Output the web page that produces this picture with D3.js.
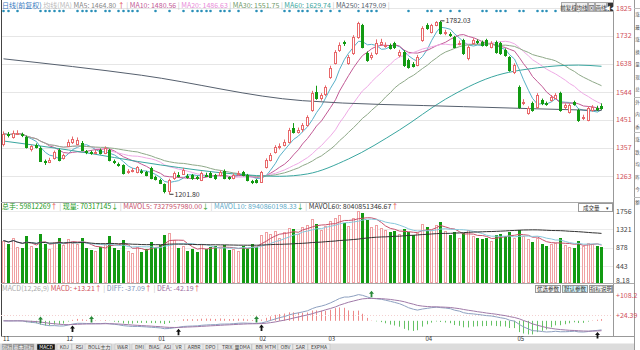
<!DOCTYPE html>
<html><head><meta charset="utf-8">
<script src="https://cdn.jsdelivr.net/npm/d3@7"></script>
<style>
body{margin:0;background:#fff}
svg{display:block;font-family:"Noto Sans CJK SC","DejaVu Sans",sans-serif}
</style>
</head><body><div id="chart"></div>
<script>
// daily candles, Nov .. May
const opens  = [1370,1402,1392,1405,1402,1395,1352,1368,1358,1312,1312,1322,1350,1322,
  1365,1376,1370,1375,1345,1342,1340,1350,1340,1350,1314,1304,1300,1276,1280,1276,1280,1276,1290,1260,
  1250,1235,1212,1256,1268,1272,1264,1266,1258,1249,1268,1273,1266,1266,1280,1258,1256,1272,1276,1266,1245,1249,
  1243,1293,1316,1343,1358,1367,1377,1423,1412,1417,1434,1484,1544,1524,1537,
  1594,1641,1684,1710,1641,1674,1728,1768,1674,1660,1674,1705,1700,1701,1708,1668,1678,1651,1638,1634,1718,
  1768,1745,1768,1778,1740,1738,1728,1706,1718,1658,1708,1714,1711,1718,1694,1711,1708,1684,1661,1610,
  1560,1508,1474,1507,1494,1517,1506,1517,1524,1540,1494,1477,1510,1484,1458,1450,1484,1492,1498];
const closes = [1405,1398,1407,1408,1398,1362,1362,1360,1316,1308,1318,1343,1316,1333,
  1378,1386,1382,1350,1342,1340,1344,1340,1356,1316,1310,1300,1273,1280,1283,1292,1276,1266,1256,1252,
  1240,1210,1249,1273,1265,1284,1260,1256,1256,1273,1266,1260,1256,1276,1256,1256,1266,1274,1266,1249,1243,1243,
  1276,1316,1333,1360,1362,1377,1417,1410,1418,1432,1460,1540,1524,1534,1560,
  1624,1678,1700,1705,1660,1728,1775,1695,1651,1668,1708,1712,1702,1691,1695,1678,1634,1628,1632,1661,1758,
  1758,1768,1778,1742,1745,1735,1694,1708,1674,1695,1718,1710,1701,1701,1708,1678,1674,1668,1617,1634,
  1494,1512,1490,1484,1534,1507,1504,1527,1534,1484,1500,1500,1504,1450,1462,1490,1494,1488,1490];
const highs  = [1412,1410,1415,1416,1408,1398,1366,1372,1362,1318,1324,1348,1355,1338,
  1385,1395,1392,1380,1350,1348,1350,1355,1362,1354,1318,1308,1302,1286,1290,1296,1286,1280,1294,1264,
  1254,1238,1254,1278,1276,1290,1270,1270,1264,1278,1274,1278,1270,1282,1285,1262,1272,1280,1280,1270,1250,1253,
  1280,1322,1340,1366,1372,1385,1424,1440,1425,1440,1466,1548,1565,1540,1566,
  1632,1684,1710,1716,1668,1734,1779,1772,1680,1676,1720,1722,1710,1706,1712,1685,1684,1656,1644,1668,1764,
  1774,1772,1781,1782.03,1752,1744,1732,1716,1722,1700,1724,1720,1716,1722,1714,1716,1712,1690,1664,1640,
  1566,1520,1496,1512,1540,1522,1512,1534,1540,1545,1506,1506,1515,1488,1468,1496,1500,1498,1506];
const lows   = [1362,1392,1388,1400,1393,1355,1345,1355,1310,1300,1306,1318,1312,1318,
  1360,1370,1366,1346,1336,1334,1336,1335,1336,1312,1303,1294,1268,1270,1275,1272,1270,1262,1252,1248,
  1236,1205,1201.8,1250,1258,1268,1254,1250,1250,1246,1260,1256,1250,1262,1252,1250,1252,1266,1262,1245,1236,1238,
  1240,1288,1312,1338,1352,1362,1372,1405,1405,1410,1428,1478,1518,1515,1530,
  1588,1636,1678,1698,1635,1668,1722,1690,1645,1652,1668,1698,1692,1686,1688,1660,1628,1622,1626,1630,1712,
  1752,1740,1764,1736,1734,1728,1690,1700,1668,1650,1702,1704,1696,1696,1690,1672,1668,1662,1612,1604,
  1488,1500,1468,1478,1488,1500,1498,1512,1520,1478,1486,1472,1498,1444,1450,1446,1478,1480,1484];
const volumes = [1050,980,1120,900,870,1150,920,880,1200,960,850,1010,1100,940,
  1080,1000,960,1120,870,820,790,900,980,1150,880,830,1060,800,760,900,780,860,1010,880,
  940,1180,1240,1060,880,920,800,850,780,960,840,890,910,870,950,820,860,800,930,880,980,900,
  1180,1250,1200,1280,1100,1260,1350,1320,1210,1380,1420,1560,1450,1300,1400,
  1520,1600,1650,1480,1400,1580,1750,1700,1550,1380,1420,1350,1300,1250,1280,1200,1320,1260,1180,1240,1450,
  1380,1300,1420,1500,1280,1180,1250,1100,1220,1300,1150,1100,1080,1120,1050,1180,1200,1150,1250,1100,
  1300,1150,1080,1020,1120,980,920,960,1000,1100,940,900,870,1050,920,1000,960,930,900];

const monthLabels = ["11","12","01","02","03","04","05"];
const monthStarts = [0,14,34,56,71,92,112];
const priceTicks = [1825,1732,1638,1544,1451,1357,1263];
const volTicks = [1756,1321,878,443];
const macdTicks = [108.2,24.39];

// long averages (history before Nov is not on screen)
const ma60At  = [0,14,34,50,60,66,75,86,96,106,116,125,130];
const ma60Val = [1380,1350,1300,1270,1262,1270,1320,1417,1520,1594,1625,1634,1630];
const ma250At  = [0,30,65,100,130];
const ma250Val = [1655,1600,1515,1495,1482];

// signal dots along the top and cross arrows in MACD
const dotAt = [0,1,3,8,9,10,11,12,13,16,17,18,19,20,22,23,25,26,27,28,29,33,36,39,41,42,43,44,45,47,48,49,51,55,56,
  61,62,64,65,66,68,69,71,73,77,79,80,81,88,92,93,95,97,99,104,105,107,108,109,112,113,116,117,118,120,125];
const buyAt = [15,38,56,129];
const sellAt = [8,19,55,80];

const W = 640, H = 350, N = closes.length;
const svg = d3.select("#chart").append("svg").attr("width", W).attr("height", H)
  .style("font-size", "7px");
svg.append("rect").attr("width", W).attr("height", H).attr("fill", "#fff");

const x = d3.scaleBand().domain(d3.range(N)).range([1, 605]).padding(0.3);
const cx = i => Math.round(x(i)) + 1.5;
const y = d3.scaleLinear().domain([1263, 1825]).range([176, 8]);
const yv = d3.scaleLinear().domain([443, 1756]).range([266, 211]);
const ym = d3.scaleLinear().domain([24.39, 108.2]).range([315, 295]);

const mean = (arr, i, n) => d3.mean(arr.slice(Math.max(0, i - n + 1), i + 1));
const ma = n => closes.map((c, i) => mean(closes, i, n));

// frames
const line = (x1, y1, x2, y2, c) => svg.append("line").attr("x1", x1).attr("y1", y1)
  .attr("x2", x2).attr("y2", y2).attr("stroke", c).attr("stroke-width", 1);
priceTicks.forEach(t => line(1, Math.round(y(t)) + .5, 613, Math.round(y(t)) + .5, "#e6e6e6"));
volTicks.forEach(t => line(1, Math.round(yv(t)) + .5, 613, Math.round(yv(t)) + .5, "#ececec"));
line(1.5, 0, 1.5, 337, "#444");
line(613.5, 0, 613.5, 337, "#999");
line(634.5, 0, 634.5, 350, "#999");
line(1, 202.5, 613, 202.5, "#aaa");
line(1, 283.5, 634, 283.5, "#aaa");
line(1, 336.5, 634, 336.5, "#999");

// price axis
svg.append("g").selectAll("text").data(priceTicks).join("text")
  .attr("x", 616).attr("y", d => y(d) + 2.5).attr("fill", "#d0505a").text(d => d);

// moving averages
const maLines = [
  {v: ma(5), c: "#58b0c8"}, {v: ma(10), c: "#c25a96"}, {v: ma(20), c: "#efaae6"},
  {v: ma(30), c: "#8fa989"},
];
const lineGen = d3.line().x((d, i) => cx(i)).y(d => y(d));
maLines.forEach(m => svg.append("path").attr("d", lineGen(m.v)).attr("fill", "none")
  .attr("stroke", m.c).attr("stroke-width", 1));
const sparse = d3.line().x(d => cx(d[0])).y(d => y(d[1])).curve(d3.curveMonotoneX);
svg.append("path").attr("d", sparse(ma60At.map((a, k) => [a, ma60Val[k]])))
  .attr("fill", "none").attr("stroke", "#3aa6a0");
svg.append("path").attr("d", sparse(ma250At.map((a, k) => [a, ma250Val[k]])))
  .attr("fill", "none").attr("stroke", "#56606e");

// candles
const up = i => closes[i] >= opens[i];
const cg = svg.append("g").selectAll("g").data(d3.range(N)).join("g");
cg.append("line").attr("x1", cx).attr("x2", cx)
  .attr("y1", i => y(highs[i])).attr("y2", i => y(lows[i]))
  .attr("stroke", i => up(i) ? "#e8686a" : "#129a12");
cg.append("rect").attr("x", i => Math.round(x(i)) + .5).attr("width", 2)
  .attr("y", i => Math.round(y(Math.max(opens[i], closes[i]))) + .5)
  .attr("height", i => Math.max(0.5, Math.round(Math.abs(y(opens[i]) - y(closes[i])))))
  .attr("fill", i => up(i) ? "#fff" : "#129a12")
  .attr("stroke", i => up(i) ? "#e8686a" : "#129a12");

// high / low notes
const hi = d3.maxIndex(highs), lo = d3.minIndex(lows);
line(cx(hi), y(highs[hi]), cx(hi) + 4, y(highs[hi]), "#333");
svg.append("text").attr("x", cx(hi) + 5).attr("y", y(highs[hi]) + 2.5).attr("fill", "#333")
  .text(highs[hi].toFixed(2));
line(cx(lo), y(lows[lo]), cx(lo) + 4, y(lows[lo]), "#333");
svg.append("text").attr("x", cx(lo) + 5).attr("y", y(lows[lo]) + 3).attr("fill", "#333")
  .text(lows[lo].toFixed(2));

// signal dots
svg.append("g").selectAll("circle").data(dotAt).join("circle")
  .attr("cx", cx).attr("cy", 11).attr("r", 1.3).attr("fill", "#2a8fb8");

// main legend
const legend = [
  ["日线(前复权)", "#3a7bbf"], ["均线(MA)", "#bbb"],
  ["MA5: 1464.80", "#888"], ["↑", "#e03030"], [" | ", "#bbb"],
  ["MA10: 1480.56", "#c25a96"], [" | ", "#bbb"],
  ["MA20: 1486.63", "#e88ad8"], [" | ", "#bbb"],
  ["MA30: 1551.75", "#6f9a6a"], [" | ", "#bbb"],
  ["MA60: 1629.74", "#3aa6a0"], [" | ", "#bbb"],
  ["MA250: 1479.09", "#56606e"], [" | ", "#bbb"],
];
const lt = svg.append("text").attr("x", 2).attr("y", 7.5);
legend.forEach(([t, c]) => lt.append("tspan").attr("fill", c).text(t + (t.length > 3 ? " " : "")));

// top buttons
const btns = [["前复权", 561, 14], ["均线", 576, 11], ["⊠", 588, 6], ["画线", 595, 11], ["◀◀", 607, 6]];
btns.forEach(([t, bx, bw]) => {
  svg.append("rect").attr("x", bx + .5).attr("y", 2.5).attr("width", bw).attr("height", 9)
    .attr("fill", t === "◀◀" ? "#333" : "#eee").attr("stroke", "#aaa");
  svg.append("text").attr("x", bx + bw / 2 + .5).attr("y", 9.5).attr("text-anchor", "middle")
    .attr("font-size", "5.5px").attr("fill", t === "◀◀" ? "#fff" : "#333").text(t);
});

// volume
const vb = Math.min(283, yv(0));
svg.append("g").selectAll("rect").data(d3.range(N)).join("rect")
  .attr("x", i => Math.round(x(i)) + .5).attr("width", 2)
  .attr("y", i => Math.round(yv(volumes[i])) + .5)
  .attr("height", i => vb - Math.round(yv(volumes[i])) - 1)
  .attr("fill", i => up(i) ? "#fff" : "#129a12")
  .attr("stroke", i => up(i) ? "#f0a0a2" : "#129a12");
const mav = n => volumes.map((v, i) => mean(volumes, i, n));
const vl = d3.line().x((d, i) => cx(i)).y(d => yv(d));
[[5, "#c8506a"], [10, "#88c8dc"], [60, "#333"]].forEach(([n, c]) =>
  svg.append("path").attr("d", vl(mav(n))).attr("fill", "none").attr("stroke", c));
svg.append("g").selectAll("text").data(volTicks).join("text")
  .attr("x", 616).attr("y", d => yv(d) + 2.5).attr("fill", "#444").text(d => d);
svg.append("text").attr("x", 616).attr("y", 283).attr("fill", "#444").text("8.18");

const vt = svg.append("text").attr("x", 2).attr("y", 209);
[["总手: 59812269", "#1a9a1a"], ["↑", "#e03030"], [" | ", "#bbb"], ["现量: 70317145", "#1a9a1a"], ["↓", "#1a9a1a"],
 [" | ", "#bbb"], ["MAVOL5: 7327957980.00", "#c8506a"], ["↓", "#1a9a1a"], [" | ", "#bbb"],
 ["MAVOL10: 8940860198.33", "#60aac8"], ["↓", "#1a9a1a"], [" | ", "#bbb"],
 ["MAVOL60: 8040851346.67", "#333"], ["↑", "#e03030"]]
  .forEach(([t, c]) => vt.append("tspan").attr("fill", c).text(t));
svg.append("rect").attr("x", 578.5).attr("y", 203.5).attr("width", 34).attr("height", 8)
  .attr("fill", "#fff").attr("stroke", "#999");
svg.append("text").attr("x", 583).attr("y", 209.5).attr("font-size", "5.5px").attr("fill", "#333").text("成交量");
svg.append("text").attr("x", 606).attr("y", 209.5).attr("font-size", "5px").attr("fill", "#333").text("▾");

// MACD
let e12 = closes[0], e26 = closes[0], dea = 0;
const diff = [], deaS = [], hist = [];
closes.forEach(c => {
  e12 = e12 * 11 / 13 + c * 2 / 13;
  e26 = e26 * 25 / 27 + c * 2 / 27;
  const d = e12 - e26;
  dea = dea * 0.8 + d * 0.2;
  diff.push(d); deaS.push(dea); hist.push(2 * (d - dea));
});
svg.append("g").selectAll("line").data(d3.range(N)).join("line")
  .attr("x1", cx).attr("x2", cx).attr("y1", ym(0)).attr("y2", i => ym(hist[i]))
  .attr("stroke", i => hist[i] >= 0 ? "#ee8a8a" : "#66c266");
line(1, Math.round(ym(24.39)) + .5, 613, Math.round(ym(24.39)) + .5, "#f3d0d0")
  .attr("stroke-dasharray", "1,2");
const ml = d3.line().x((d, i) => cx(i)).y(d => ym(d));
svg.append("path").attr("d", ml(diff)).attr("fill", "none").attr("stroke", "#8da0c0");
svg.append("path").attr("d", ml(deaS)).attr("fill", "none").attr("stroke", "#a07aa8");
svg.append("g").selectAll("text").data(macdTicks).join("text")
  .attr("x", 616).attr("y", d => ym(d) + 2.5).attr("fill", "#d0505a").text(d => "+" + d);

const arrow = (i, yy, c) => svg.append("path")
  .attr("d", `M${cx(i)},${yy} l-2.5,3 h1.6 v3.5 h1.8 v-3.5 h1.6 z`).attr("fill", c);
buyAt.forEach(i => arrow(i, ym(diff[i]) + 1.5, "#111"));
sellAt.forEach(i => arrow(i, ym(diff[i]) - 7.5, "#2a8a3a"));

const mt = svg.append("text").attr("x", 2).attr("y", 291);
[["MACD(12,26,9)  ", "#aaa"], ["MACD: +13.21", "#d0505a"], ["↑", "#e03030"], [" | ", "#bbb"],
 ["DIFF: -37.09", "#7a90b8"], ["↑", "#e03030"], [" | ", "#bbb"], ["DEA: -42.19", "#9a6aa0"], ["↑", "#e03030"]]
  .forEach(([t, c]) => mt.append("tspan").attr("fill", c).text(t));
[["优选参数", 535, 25, "#f6f6f6"], ["默认参数", 562, 25, "#cdeef6"], ["指标说明", 589, 23, "#f6f6f6"]]
  .forEach(([t, bx, bw, f]) => {
    svg.append("rect").attr("x", bx + .5).attr("y", 285.5).attr("width", bw).attr("height", 7)
      .attr("fill", f).attr("stroke", "#999");
    svg.append("text").attr("x", bx + bw / 2 + .5).attr("y", 291).attr("text-anchor", "middle")
      .attr("font-size", "5.5px").attr("fill", "#333").text(t);
  });

// month axis
svg.append("g").selectAll("text").data(monthStarts).join("text")
  .attr("x", (d, k) => k === 0 ? 3 : cx(d) - 2).attr("y", 341).attr("fill", "#333")
  .attr("font-size", "6px").text((d, k) => monthLabels[k]);

// indicator tabs
svg.append("rect").attr("x", 0).attr("y", 343.5).attr("width", 634).attr("height", 6.5).attr("fill", "#dcdcdc");
const tabs = ["指标", "基本指标", "MACD", "KDJ", "RSI", "BOLL", "主力", "W&R", "DMI", "BIAS", "ASI", "VR",
  "ARBR", "DPO", "TRIX", "量DMA", "BBI", "MTM", "OBV", "SAR", "EXPMA"];
const tabX = [2, 13, 37, 57, 72, 85, 100, 115, 132, 145, 160, 173, 185, 203, 218, 233, 252, 263, 278, 293, 308];
tabs.forEach((t, k) => {
  const w = k === 0 ? 10 : k === 1 ? 21 : k === 2 ? 18 : t.length * 3.6 + 4;
  svg.append("rect").attr("x", tabX[k]).attr("y", 344).attr("width", w).attr("height", 6)
    .attr("fill", k === 2 ? "#111" : k < 2 ? "#8a8a8a" : "#e8e8e8").attr("stroke", "#bbb").attr("stroke-width", .5);
  svg.append("text").attr("x", tabX[k] + w / 2).attr("y", 349).attr("text-anchor", "middle")
    .attr("font-size", "5px").attr("fill", k < 3 ? "#fff" : "#444").text(t);
});

// side panel edge (mostly off-window)
const side = ["涨", "最", "涨", "换", "量", "现", "总", "外", "内", "委", "涨", "跌", "均", "昨", "今", "额"];
svg.append("g").selectAll("text").data(side).join("text")
  .attr("x", 635.2).attr("y", (d, k) => 16 + k * 12.5).attr("font-size", "4.5px").attr("fill", "#555").text(d => d);
[8.5, 97.5, 132.5, 197.5].forEach(yy => line(634, yy, 640, yy, "#bbb"));
</script>
</body></html>
